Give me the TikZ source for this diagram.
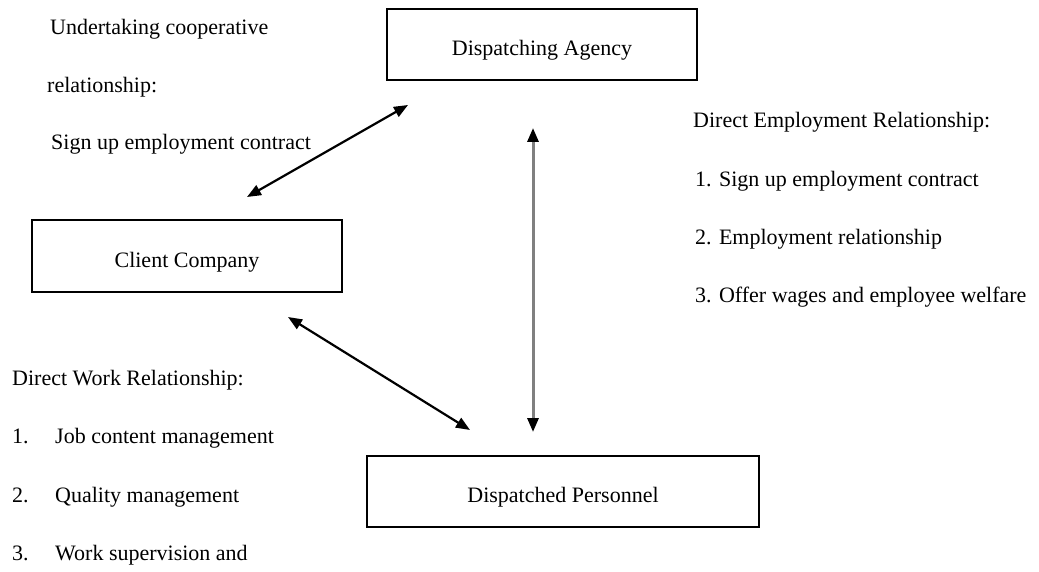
\documentclass[tikz,border=0pt]{standalone}
\usepackage{fontspec}
\setmainfont{Liberation Serif}
\usetikzlibrary{arrows.meta,positioning}
\tikzset{
  box/.style={draw, line width=2pt, minimum height=71pt, inner sep=0pt, text height=27pt, text depth=5pt},
  lbl/.style={anchor=west, inner sep=0pt, text height=15pt, text depth=5pt},
  twoway/.style={line width=2.2pt, {Triangle[length=14pt,width=11pt]}-{Triangle[length=14pt,width=11pt]}},
}
\begin{document}
\begin{tikzpicture}[x=1pt,y=-1pt,font=\fontsize{22}{26}\selectfont]
  \useasboundingbox (0,0) rectangle (1039,572);
  \node[box, minimum width=310pt] (agency) at (542,44.5) {Dispatching Agency};
  \node[box, minimum width=310pt, minimum height=72pt] (client) at (187,256) {Client Company};
  \node[box, minimum width=392pt] (personnel) at (563,491.5) {Dispatched Personnel};
  % agency <-> client
  \coordinate (ca) at (247,197);
  \coordinate (ac) at (408,105);
  \draw[twoway] (ca) -- (ac);
  % agency <-> personnel
  \coordinate (ap) at (533,128);
  \coordinate (pa) at (533,432);
  \draw[black!50, line width=3pt,
    {Triangle[length=14pt,width=11pt,color=black]}-{Triangle[length=14pt,width=11pt,color=black]}] (ap) -- (pa);
  % client <-> personnel
  \coordinate (cp) at (288,317);
  \coordinate (pc) at (470,430);
  \draw[twoway] (cp) -- (pc);
  % cooperative relationship
  \node[lbl] (coop1) at (50,30) {Undertaking cooperative};
  \node[lbl] (coop2) at (47,88) {relationship:};
  \node[lbl] (coop3) at (51,145) {Sign up employment contract};
  % employment relationship
  \node[lbl] (emp0) at (693,123) {Direct Employment Relationship:};
  \node[lbl] (emp1) at (695,182) {1. Sign up employment contract};
  \node[lbl] (emp2) at (695,240) {2. Employment relationship};
  \node[lbl] (emp3) at (695,297) {3. Offer wages and employee welfare};
  % work relationship
  \node[lbl] (work0) at (12,380) {Direct Work Relationship:};
  \node[lbl] (num1) at (12,438) {1.};
  \node[lbl] (work1) at (55,438) {Job content management};
  \node[lbl] (num2) at (12,497) {2.};
  \node[lbl] (work2) at (55,497) {Quality management};
  \node[lbl] (num3) at (12,555) {3.};
  \node[lbl] (work3) at (55,555) {Work supervision and};
\end{tikzpicture}
\end{document}
